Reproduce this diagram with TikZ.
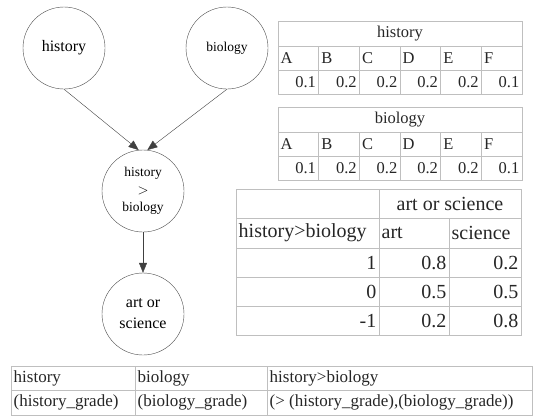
\documentclass[tikz,border=0pt]{standalone}
\usepackage{fontspec}
\setmainfont{Liberation Serif}
\usetikzlibrary{arrows.meta}

\tikzset{
  var/.style={circle, draw=black!70, minimum size=82pt, inner sep=0pt, align=center},
  edge/.style={draw=black!75, -{Triangle[length=10pt,width=8pt]}},
  tbl/.style={draw=black!25, line width=0.9pt},
  cell/.style={inner sep=2.5pt, text=black!85}
}

\begin{document}
\begin{tikzpicture}[x=1pt, y=-1pt]
      \useasboundingbox (0,0) rectangle (534,418);

      % the network
      \node[var, font=\fontsize{16}{20}\selectfont] (history) at (64,48) {history};
      \node[var, font=\fontsize{13.5}{17}\selectfont] (biology) at (227,48) {biology};
      \node[var, font=\fontsize{13.5}{17.5}\selectfont] (hgtb) at (143,191) {history\\$>$\\biology};
      \node[var, font=\fontsize{16}{21}\selectfont] (artsci) at (143,314) {art or\\science};

      \draw[edge] (history.south) -- (hgtb.96);
      \draw[edge] (biology.south) -- (hgtb.84);
      \draw[edge] (hgtb) -- (artsci);

      % prior tables
      \foreach \nm/\top in {history/21, biology/107} {
        \draw[tbl] (278,\top) rectangle (522,{\top+73});
        \draw[tbl] (278,{\top+25}) -- (522,{\top+25});
        \draw[tbl] (278,{\top+49}) -- (522,{\top+49});
        \foreach \i in {1,...,5}
          \draw[tbl] ({278+\i*40.67},{\top+25}) -- ({278+\i*40.67},{\top+73});
        \node[cell, font=\fontsize{16.5}{18}\selectfont] (\nm-head) at (400,{\top+12.5}) {\nm};
        \foreach \l [count=\i] in {A,B,C,D,E,F}
          \node[cell, anchor=west, font=\fontsize{16.5}{18}\selectfont] (\nm-g\i) at ({278+(\i-1)*40.67},{\top+37}) {\l};
        \foreach \v [count=\i] in {0.1,0.2,0.2,0.2,0.2,0.1}
          \node[cell, anchor=east, font=\fontsize{16.5}{18}\selectfont] (\nm-p\i) at ({278+\i*40.67},{\top+61}) {\v};
      }

      % conditional table
      \draw[tbl] (236,189) rectangle (521,335);
      \foreach \y in {218, 248, 277, 306}
        \draw[tbl] (236,\y) -- (521,\y);
      \draw[tbl] (379,189) -- (379,335);
      \draw[tbl] (449,218) -- (449,335);
      \begin{scope}[every node/.style={cell, font=\fontsize{20}{22}\selectfont}]
        \node (cpt-head) at (450,203.5) {art or science};
        \node[anchor=west] (cpt-par) at (236,233) {history>biology};
        \node[anchor=west] (cpt-art) at (379,233) {art};
        \node[anchor=west] (cpt-sci) at (449,233) {science};
        \foreach \c/\a/\s [count=\r] in {1/0.8/0.2, 0/0.5/0.5, -1/0.2/0.8} {
          \node[anchor=east] (cpt-c\r) at (379,{248+(\r-0.5)*29.2}) {\c};
          \node[anchor=east] (cpt-a\r) at (449,{248+(\r-0.5)*29.2}) {\a};
          \node[anchor=east] (cpt-s\r) at (521,{248+(\r-0.5)*29.2}) {\s};
        }
      \end{scope}

      % definitions
      \draw[tbl] (11,366) rectangle (532,415);
      \draw[tbl] (11,390) -- (532,390);
      \draw[tbl] (135,366) -- (135,415);
      \draw[tbl] (267,366) -- (267,415);
      \begin{scope}[every node/.style={cell, anchor=west, font=\fontsize{17}{19}\selectfont}]
        \node (def-h) at (11,378) {history};
        \node (def-b) at (135,378) {biology};
        \node (def-c) at (267,378) {history>biology};
        \node (def-hv) at (11,402.5) {(history\_grade)};
        \node (def-bv) at (135,402.5) {(biology\_grade)};
        \node (def-cv) at (267,402.5) {(> (history\_grade),(biology\_grade))};
      \end{scope}
\end{tikzpicture}
\end{document}
